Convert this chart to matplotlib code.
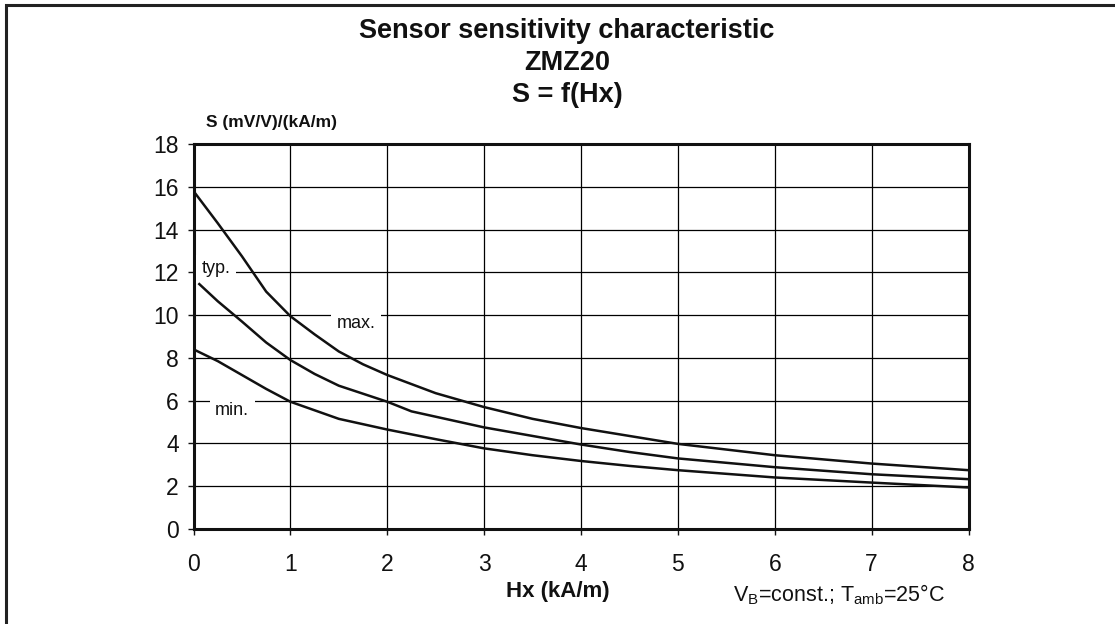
import matplotlib
matplotlib.use("Agg")
import matplotlib.pyplot as plt
from matplotlib.patches import Rectangle

plt.rcParams['font.family'] = ['Liberation Sans', 'DejaVu Sans']
plt.rcParams['mathtext.fontset'] = 'custom'
plt.rcParams['mathtext.rm'] = 'Liberation Sans'

# ---- data ----
hx_max = [0, 0.25, 0.5, 0.75, 1, 1.25, 1.5, 1.75, 2, 2.5, 3, 3.5, 4, 4.5, 5, 6, 7, 8]
s_max = [15.8, 14.3, 12.75, 11.1, 9.95, 9.1, 8.3, 7.7, 7.2, 6.35, 5.7, 5.15, 4.72, 4.35, 3.98, 3.45, 3.06, 2.75]

hx_typ = [0.06, 0.25, 0.5, 0.75, 1, 1.25, 1.5, 2, 2.25, 2.5, 3, 3.5, 4, 4.5, 5, 6, 7, 8]
s_typ = [11.45, 10.65, 9.7, 8.72, 7.9, 7.25, 6.7, 5.95, 5.5, 5.25, 4.75, 4.35, 3.95, 3.6, 3.3, 2.89, 2.56, 2.33]

hx_min = [0, 0.25, 0.5, 0.75, 1, 1.5, 2, 2.5, 3, 3.5, 4, 4.5, 5, 6, 7, 8]
s_min = [8.4, 7.85, 7.2, 6.55, 5.95, 5.15, 4.65, 4.2, 3.77, 3.45, 3.18, 2.95, 2.75, 2.41, 2.17, 1.94]

curve_labels = ["max.", "typ.", "min."]
label_pos = {"typ.": (0.23, 11.95), "max.": (1.68, 9.38), "min.": (0.40, 5.33)}

x_ticks = list(range(0, 9))
y_ticks = list(range(0, 19, 2))

title_lines = ["Sensor sensitivity characteristic", "ZMZ20", "S = f(Hx)"]
y_label = "S (mV/V)/(kA/m)"
x_label = "Hx (kA/m)"
cond_text = r"V$_\mathregular{B}$=const.; T$_\mathregular{amb}$=25°C"

# ---- figure ----
W, H = 1115, 624
fig = plt.figure(figsize=(W / 100, H / 100), dpi=100)
fig.patch.set_facecolor('white')

ax = fig.add_axes([193.5 / W, 1 - 529 / H, (968.5 - 193.5) / W, (529 - 144) / H])
ax.set_xlim(0, 8)
ax.set_ylim(0, 18)
ax.set_xticks(x_ticks)
ax.set_yticks(y_ticks)
ax.set_axisbelow(True)
ax.grid(True, color='black', lw=0.9, zorder=1)
for s in ax.spines.values():
    s.set_linewidth(2.2)
    s.set_color('#111111')
ax.tick_params(axis='both', direction='out', length=4.5, width=1.0, labelsize=16.5, colors='#111111')
ax.tick_params(axis='x', pad=13)
ax.tick_params(axis='y', pad=6)

for hx, s in [(hx_max, s_max), (hx_typ, s_typ), (hx_min, s_min)]:
    ax.plot(hx, s, color='#111111', lw=1.8, zorder=4, solid_joinstyle='round')

for lab in curve_labels:
    x, y = label_pos[lab]
    ax.text(x, y, lab, ha='center', va='baseline', fontsize=13, color='#111111', zorder=3,
            bbox=dict(facecolor='white', edgecolor='none', pad=4))

# titles and labels
ys = [38.5, 70, 101.5]
for t, yy in zip(title_lines, ys):
    fig.text(567 / W, 1 - yy / H, t, ha='center', va='baseline', fontsize=19.5, fontweight='bold', color='#111111')

fig.text(206 / W, 1 - 126.7 / H, y_label, ha='left', va='baseline', fontsize=12.5, fontweight='bold', color='#111111')
fig.text(558 / W, 1 - 597 / H, x_label, ha='center', va='baseline', fontsize=16, fontweight='bold', color='#111111')
fig.text(733 / W, 1 - 601 / H, cond_text, ha='left', va='baseline', fontsize=15.5, color='#111111')

# outer frame (partly outside the picture)
fig.patches.append(Rectangle((6 / W, -0.2), 1.3, 1.2 - 5 / H, transform=fig.transFigure,
                             fill=False, lw=2.2, edgecolor='#222222', clip_on=False))

fig.savefig('out.png', dpi=100, facecolor='white')
